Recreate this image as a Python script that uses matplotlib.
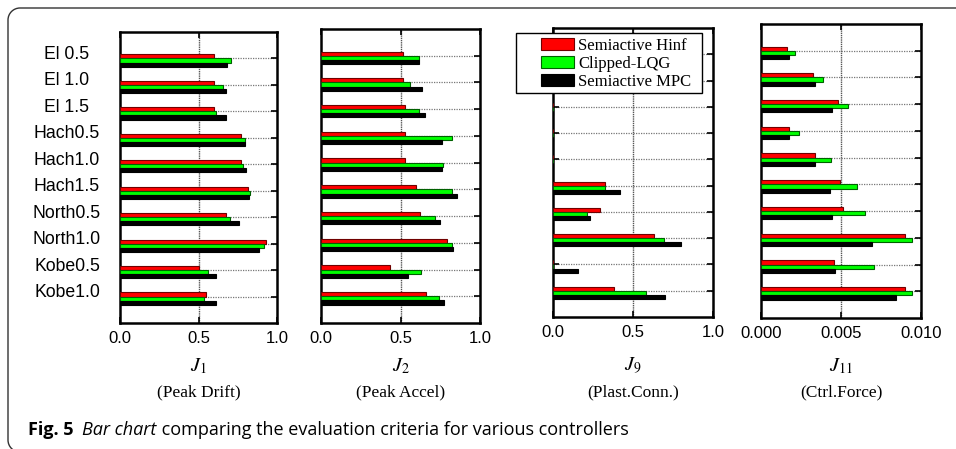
import matplotlib
matplotlib.use("Agg")
import matplotlib.pyplot as plt
import matplotlib.transforms as mtransforms
from matplotlib.patches import Patch, PathPatch, Rectangle
from matplotlib.path import Path
import numpy as np

# ---------------- data ----------------
categories = ["El 0.5", "El 1.0", "El 1.5", "Hach0.5", "Hach1.0", "Hach1.5",
              "North0.5", "North1.0", "Kobe0.5", "Kobe1.0"]
series_names = ["Semiactive Hinf", "Clipped-LQG", "Semiactive MPC"]

j1_hinf = [0.596, 0.596, 0.596, 0.770, 0.770, 0.815, 0.674, 0.932, 0.506, 0.547]
j1_lqg  = [0.706, 0.655, 0.609, 0.794, 0.783, 0.828, 0.700, 0.915, 0.560, 0.538]
j1_mpc  = [0.681, 0.674, 0.674, 0.794, 0.802, 0.823, 0.760, 0.887, 0.611, 0.611]

j2_hinf = [0.515, 0.513, 0.527, 0.527, 0.531, 0.600, 0.623, 0.791, 0.435, 0.659]
j2_lqg  = [0.615, 0.559, 0.619, 0.822, 0.770, 0.822, 0.720, 0.822, 0.626, 0.745]
j2_mpc  = [0.619, 0.638, 0.653, 0.762, 0.762, 0.856, 0.747, 0.831, 0.546, 0.772]

j9_hinf = [0.0, 0.0, 0.0, 0.0, 0.0, 0.326, 0.293, 0.633, 0.0, 0.382]
j9_lqg  = [0.0, 0.0, 0.0, 0.0, 0.0, 0.322, 0.210, 0.695, 0.0, 0.583]
j9_mpc  = [0.0, 0.0, 0.0, 0.0, 0.0, 0.421, 0.230, 0.803, 0.156, 0.703]

j11_hinf = [0.00163, 0.00323, 0.00483, 0.00173, 0.00335, 0.00492, 0.00510, 0.00900, 0.00454, 0.00900]
j11_lqg  = [0.00210, 0.00385, 0.00546, 0.00235, 0.00435, 0.00602, 0.00648, 0.00942, 0.00706, 0.00942]
j11_mpc  = [0.00173, 0.00335, 0.00442, 0.00173, 0.00335, 0.00433, 0.00442, 0.00692, 0.00463, 0.00842]

panel_data = [(j1_hinf, j1_lqg, j1_mpc), (j2_hinf, j2_lqg, j2_mpc),
              (j9_hinf, j9_lqg, j9_mpc), (j11_hinf, j11_lqg, j11_mpc)]
x_ticks = [[0.0, 0.5, 1.0], [0.0, 0.5, 1.0], [0.0, 0.5, 1.0], [0.000, 0.005, 0.010]]
x_ticklabels = [["0.0", "0.5", "1.0"], ["0.0", "0.5", "1.0"], ["0.0", "0.5", "1.0"],
                ["0.000", "0.005", "0.010"]]
crit_symbols = [r"$J_{1}$", r"$J_{2}$", r"$J_{9}$", r"$J_{11}$"]
crit_names = ["(Peak Drift)", "(Peak Accel)", "(Plast.Conn.)", "(Ctrl.Force)"]
caption_bold = "Fig. 5"
caption_italic = "Bar chart"
caption_rest = " comparing the evaluation criteria for various controllers"

# ---------------- style ----------------
face_colors = ["#ff0000", "#00ff00", "#000000"]
edge_colors = ["#700000", "#006000", "#000000"]

W, H = 956, 449
fig = plt.figure(figsize=(W / 100, H / 100), dpi=100)
plt.rcParams["mathtext.fontset"] = "stix"

def px_rect(x0, y0, x1, y1):
    return [x0 / W, 1 - y1 / H, (x1 - x0) / W, (y1 - y0) / H]

boxes = [(120, 32, 277, 323), (321, 29, 480, 323), (553, 28, 713, 317), (761, 24, 921, 318)]

# rounded outer frame: top edge, left edge, rounded corners (pixel coords, y down)
r, fx, ft, fb = 12.0, 8.0, 8.0, 452.0
kc = 0.5523 * r
verts_px = [(W + 10, ft), (fx + r, ft),
            (fx + r - kc, ft), (fx, ft + r - kc), (fx, ft + r),
            (fx, fb - r),
            (fx, fb - r + kc), (fx + r - kc, fb), (fx + r, fb)]
codes = [Path.MOVETO, Path.LINETO, Path.CURVE4, Path.CURVE4, Path.CURVE4,
         Path.LINETO, Path.CURVE4, Path.CURVE4, Path.CURVE4]
verts = [(vx / W, 1 - vy / H) for vx, vy in verts_px]
fig.patches.append(PathPatch(Path(verts, codes), transform=fig.transFigure,
                             facecolor="none", edgecolor="#333333", linewidth=1.0,
                             clip_on=False))

pos = np.arange(1, len(categories) + 1)
bh = 0.155
offsets = [-bh / 2, bh / 2, 1.5 * bh]

for k, (box, data) in enumerate(zip(boxes, panel_data)):
    ax = fig.add_axes(px_rect(*box))
    for s in range(3):
        ax.barh(pos + offsets[s], data[s], height=bh, color=face_colors[s],
                edgecolor=edge_colors[s], linewidth=0.8, zorder=3)
    ax.set_ylim(len(categories) + 1, 0)
    ax.set_xlim(x_ticks[k][0], x_ticks[k][-1])
    ax.set_xticks(x_ticks[k])
    ax.set_xticklabels(x_ticklabels[k], fontsize=12, family="Liberation Sans")
    ax.set_yticks(pos)
    ax.set_yticklabels([])
    ax.tick_params(axis="both", direction="in", top=True, right=True,
                   length=4, width=1.2, pad=6)
    for p in pos:
        ax.axhline(p, color="#777777", linewidth=0.9, linestyle=(0, (1, 1)), zorder=1)
    ax.axvline(x_ticks[k][1], color="#555555", linewidth=1.0, linestyle=(0, (1, 0.6)), zorder=1)
    for sp in ax.spines.values():
        sp.set_linewidth(1.8)
    cx = (box[0] + box[2]) / 2
    fig.text(cx / W, 1 - 366 / H, crit_symbols[k], fontsize=14.5, ha="center", va="center")
    fig.text(cx / W, 1 - 392 / H, crit_names[k], fontsize=12.5, family="Liberation Serif",
             ha="center", va="center")
    if k == 0:
        off = mtransforms.ScaledTranslation(0, 4 / 100, fig.dpi_scale_trans)
        tr = mtransforms.blended_transform_factory(fig.transFigure, ax.transData) + off
        for c, p in zip(categories, pos):
            fig.text(67 / W, p, c, transform=tr, fontsize=12.7, family="Liberation Sans",
                     ha="center", va="center")

# legend (frame drawn separately to match the wide left margin)
leg_frame = Rectangle((516 / W, 1 - 93 / H), 186 / W, 60 / H, transform=fig.transFigure,
                      facecolor="white", edgecolor="black", linewidth=1.0, zorder=4)
fig.patches.append(leg_frame)
handles = [Patch(facecolor=face_colors[s], edgecolor=edge_colors[s], linewidth=0.8)
           for s in range(3)]
leg = fig.legend(handles, series_names, loc="upper left",
                 bbox_to_anchor=(541 / W, 1 - 38 / H), bbox_transform=fig.transFigure,
                 prop={"family": "Liberation Serif", "size": 12},
                 handlelength=1.95, handleheight=0.75, handletextpad=0.3,
                 labelspacing=0.12, borderpad=0, borderaxespad=0, frameon=False)
leg.set_zorder(5)

# caption
fig.canvas.draw()
renderer = fig.canvas.get_renderer()
cap_y = 1 - 430 / H
cap_size = 13
x = 28 / W
t1 = fig.text(x, cap_y, caption_bold, fontsize=cap_size, family="Open Sans", weight="bold",
              va="center", ha="left")
w1 = t1.get_window_extent(renderer).width
x += (w1 + 9) / W
t2 = fig.text(x, cap_y, caption_italic, fontsize=cap_size, family="Open Sans", style="italic",
              va="center", ha="left")
w2 = t2.get_window_extent(renderer).width
x += w2 / W
t3 = fig.text(x, cap_y, caption_rest, fontsize=cap_size, family="Open Sans",
              va="center", ha="left")

fig.savefig("out.png", dpi=100)
